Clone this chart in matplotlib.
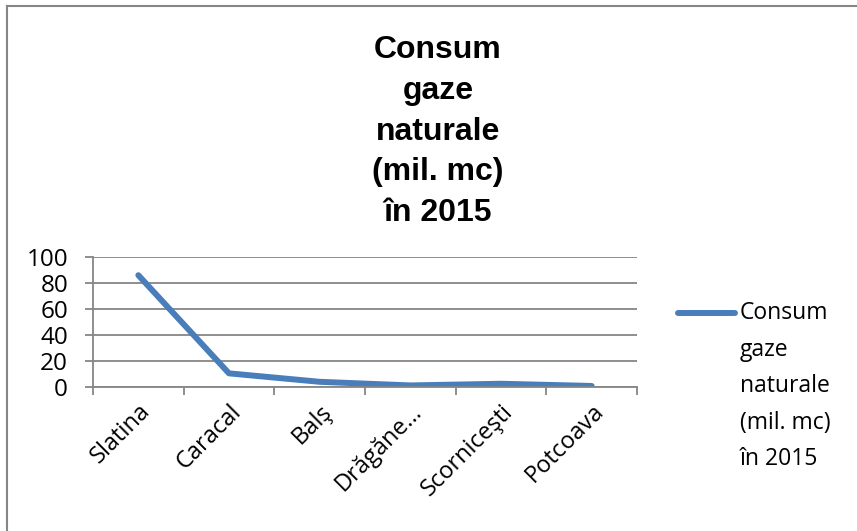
import matplotlib.pyplot as plt
from matplotlib.lines import Line2D

# data
orase = ['Slatina', 'Caracal', 'Balş', 'Drăgăne…', 'Scorniceşti', 'Potcoava']
consum = [86, 10.5, 4, 1.2, 2.5, 0.8]
titlu = 'Consum\ngaze\nnaturale\n(mil. mc)\nîn 2015'
eticheta = 'Consum\ngaze\nnaturale\n(mil. mc)\nîn 2015'

W, H = 857, 531
gri = '#868686'
albastru = '#4a7ebb'

fig = plt.figure(figsize=(W / 100, H / 100), dpi=100)

# chart border (only top and left are visible)
fig.add_artist(Line2D([7 / W, 1], [1 - 6 / H, 1 - 6 / H], transform=fig.transFigure,
                      color=gri, linewidth=1.5))
fig.add_artist(Line2D([7 / W, 7 / W], [0, 1 - 6 / H], transform=fig.transFigure,
                      color=gri, linewidth=1.5))

ax = fig.add_axes([93 / W, 1 - 387 / H, (637 - 93) / W, (387 - 257) / H])
x = list(range(len(orase)))
ax.plot(x, consum, color=albastru, linewidth=4.3, solid_capstyle='round')

ax.set_xlim(-0.5, len(orase) - 0.5)
ax.set_ylim(0, 100)
ax.set_yticks(range(0, 101, 20))
ax.yaxis.grid(True, color=gri, linewidth=1.3)
ax.set_axisbelow(True)

# boundary ticks as major, labels on minor ticks at centers
ax.set_xticks([i - 0.5 for i in range(len(orase) + 1)])
ax.set_xticklabels([])
ax.set_xticks(x, minor=True)
ax.set_xticklabels(orase, minor=True, rotation=45, ha='right',
                   rotation_mode='anchor', fontfamily='Open Sans', fontsize=17)
ax.tick_params(axis='x', which='major', length=6, color=gri, width=1.3)
ax.tick_params(axis='x', which='minor', length=0, pad=9)
ax.tick_params(axis='y', length=6, color=gri, width=1.3, pad=12)
for lbl in ax.get_yticklabels():
    lbl.set_fontfamily('Open Sans')
    lbl.set_fontsize(17.5)

for s in ['top', 'right']:
    ax.spines[s].set_visible(False)
for s in ['left', 'bottom']:
    ax.spines[s].set_color(gri)
    ax.spines[s].set_linewidth(1.3)

# title
fig.text(438 / W, 1 - 35 / H, titlu, ha='center', va='top', fontsize=23,
         fontweight='bold', fontfamily='Liberation Sans', linespacing=1.47)

# legend
fig.add_artist(Line2D([678 / W, 735 / W], [1 - 313 / H, 1 - 313 / H],
                      transform=fig.transFigure, color=albastru, linewidth=4.3,
                      solid_capstyle='round'))
fig.text(740 / W, 1 - 301 / H, eticheta, ha='left', va='top',
         fontsize=16.5, fontfamily='Open Sans', linespacing=1.7)

fig.savefig('out.png', dpi=100)
